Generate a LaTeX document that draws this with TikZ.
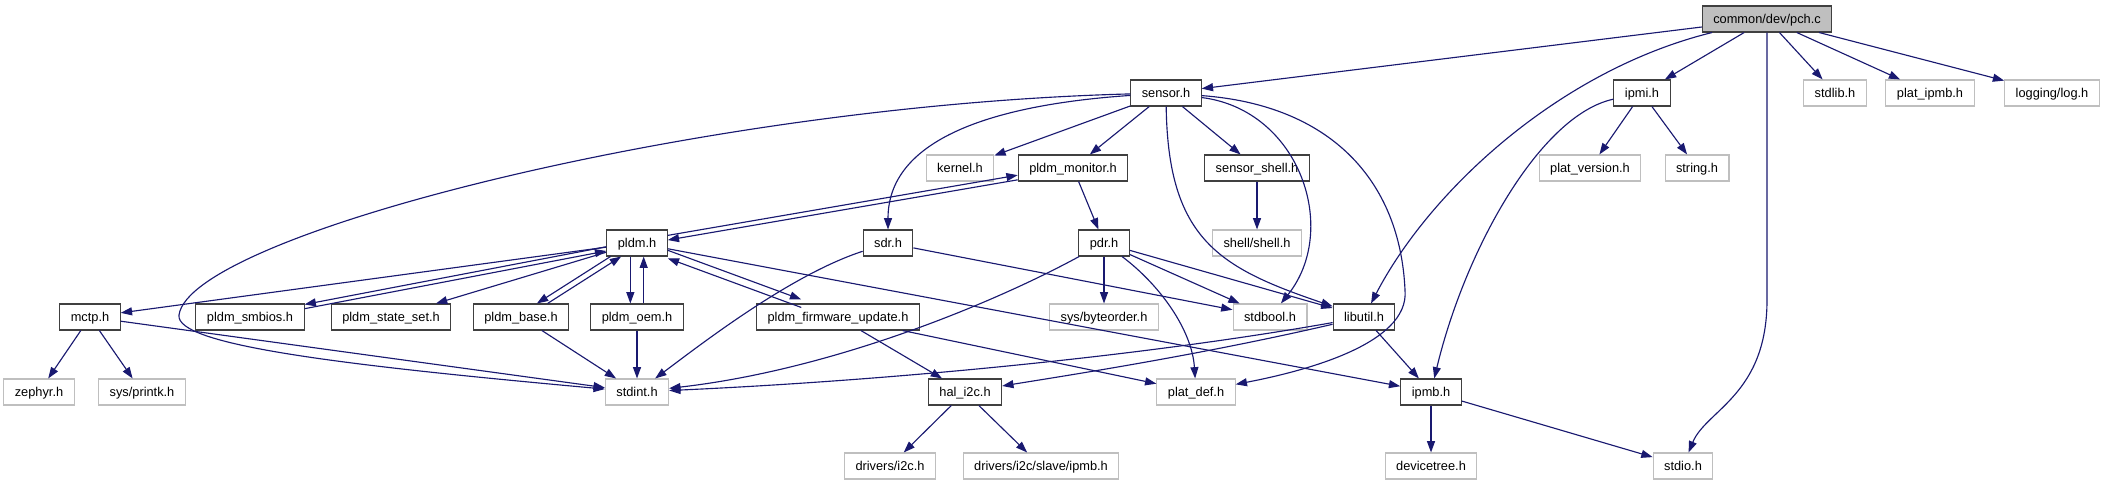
\documentclass[tikz,border=0pt]{standalone}
\usepackage{fontspec}
\setmainfont{Liberation Sans}
\usepackage{tikz}
\usetikzlibrary{arrows.meta}
\definecolor{edgeblue}{HTML}{191970}
\definecolor{boxgrey}{HTML}{BFBFBF}
\definecolor{boxline}{HTML}{404040}

\begin{document}
\begin{tikzpicture}[x=0.75pt, y=-0.75pt,
  hdr/.style={draw=boxline, fill=white, line width=0.8pt, minimum height=19.5pt,
              inner xsep=8.25pt, inner ysep=0pt, text height=7pt, text depth=0pt,
              font=\fontsize{9.6}{11}\selectfont},
  ext/.style={hdr, draw=boxgrey},
  root/.style={hdr, fill=boxgrey},
  inc/.style={draw=edgeblue, line width=0.85pt, -{Triangle[length=8.5pt, width=6pt]}},
]
  \useasboundingbox (0,0) rectangle (2105,485);

  % file and its direct includes
  \node[root] (pch)         at (1767,19)  {common/dev/pch.c};
  \node[hdr]  (sensor)      at (1166,93)  {sensor.h};
  \node[hdr]  (ipmi)        at (1642,93)  {ipmi.h};
  \node[ext]  (stdlib)      at (1835,93)  {stdlib.h};
  \node[ext]  (platipmb)    at (1930,93)  {plat\_ipmb.h};
  \node[ext]  (log)         at (2052,93)  {logging/log.h};

  \node[ext]  (kernel)      at (960,168)  {kernel.h};
  \node[hdr]  (pldmmon)     at (1073,168) {pldm\_monitor.h};
  \node[hdr]  (sensorshell) at (1257,168) {sensor\_shell.h};
  \node[ext]  (platversion) at (1590,168) {plat\_version.h};
  \node[ext]  (string)      at (1697,168) {string.h};

  \node[hdr]  (pldm)        at (637,243)  {pldm.h};
  \node[hdr]  (sdr)         at (888,243)  {sdr.h};
  \node[hdr]  (pdr)         at (1104,243) {pdr.h};
  \node[ext]  (shell)       at (1257,243) {shell/shell.h};

  \node[hdr]  (mctp)        at (90,317)   {mctp.h};
  \node[hdr]  (smbios)      at (250,317)  {pldm\_smbios.h};
  \node[hdr]  (stateset)    at (391,317)  {pldm\_state\_set.h};
  \node[hdr]  (base)        at (521,317)  {pldm\_base.h};
  \node[hdr]  (oem)         at (637,317)  {pldm\_oem.h};
  \node[hdr]  (fwupdate)    at (838,317)  {pldm\_firmware\_update.h};
  \node[ext]  (byteorder)   at (1104,317) {sys/byteorder.h};
  \node[ext]  (stdbool)     at (1270,317) {stdbool.h};
  \node[hdr]  (libutil)     at (1364,317) {libutil.h};

  \node[ext]  (zephyr)      at (39,392)   {zephyr.h};
  \node[ext]  (printk)      at (142,392)  {sys/printk.h};
  \node[ext]  (stdint)      at (637,392)  {stdint.h};
  \node[hdr]  (hali2c)      at (965,392)  {hal\_i2c.h};
  \node[ext]  (platdef)     at (1196,392) {plat\_def.h};
  \node[hdr]  (ipmb)        at (1431,392) {ipmb.h};

  \node[ext]  (drvi2c)      at (890,466)  {drivers/i2c.h};
  \node[ext]  (slaveipmb)   at (1041,466) {drivers/i2c/slave/ipmb.h};
  \node[ext]  (devicetree)  at (1431,466) {devicetree.h};
  \node[ext]  (stdio)       at (1683,466) {stdio.h};

  % pch.c
  \draw[inc] (pch) -- (sensor);
  \draw[inc] (pch) .. controls (1560,70) and (1430,190) .. (libutil);
  \draw[inc] (pch) -- (ipmi);
  \draw[inc] (pch) -- (1767,300) .. controls (1767,395) and (1706,410) .. (stdio);
  \draw[inc] (pch) -- (stdlib);
  \draw[inc] (pch) -- (platipmb);
  \draw[inc] (pch) -- (log);

  % sensor.h
  \draw[inc] (sensor) .. controls (700,105) and (190,235) .. (179,315)
                      .. controls (175,345) and (340,365) .. (stdint);
  \draw[inc] (sensor) .. controls (990,105) and (888,140) .. (sdr);
  \draw[inc] (sensor) -- (kernel);
  \draw[inc] (sensor) -- (pldmmon);
  \draw[inc] (sensor) -- (sensorshell);
  \draw[inc] (sensor) .. controls (1168,240) and (1220,268) .. (libutil);
  \draw[inc] (sensor) .. controls (1300,110) and (1340,230) .. (stdbool);
  \draw[inc] (sensor) .. controls (1330,105) and (1400,180) .. (1405,290)
                      .. controls (1410,345) and (1300,372) .. (platdef);

  % ipmi.h, sensor_shell.h
  \draw[inc] (ipmi) -- (platversion);
  \draw[inc] (ipmi) -- (string);
  \draw[inc] (ipmi) .. controls (1540,115) and (1465,250) .. (ipmb);
  \draw[inc] (sensorshell) -- (shell);

  % pldm_monitor.h and the pldm cycle
  \draw[inc, transform canvas={yshift=1.75pt}]  (pldm) -- (pldmmon);
  \draw[inc, transform canvas={yshift=-1.75pt}] (pldmmon) -- (pldm);
  \draw[inc] (pldmmon) -- (pdr);
  \draw[inc] (pldm) -- (mctp);
  \draw[inc, transform canvas={yshift=1.6pt}]  (pldm) -- (smbios);
  \draw[inc, transform canvas={yshift=-1.6pt}] (smbios) -- (pldm);
  \draw[inc] (pldm) -- (stateset);
  \draw[inc, transform canvas={xshift=-4pt}] (pldm) -- (base);
  \draw[inc, transform canvas={xshift=4pt}]  (base) -- (pldm);
  \draw[inc, transform canvas={xshift=-5pt}] (pldm) -- (oem);
  \draw[inc, transform canvas={xshift=5pt}]  (oem) -- (pldm);
  \draw[inc, transform canvas={yshift=3pt}]  (pldm) -- (fwupdate);
  \draw[inc, transform canvas={yshift=-3pt}] (fwupdate) -- (pldm);
  \draw[inc] (pldm) -- (ipmb);

  % sdr.h, pdr.h
  \draw[inc] (sdr) .. controls (790,275) and (700,345) .. (stdint);
  \draw[inc] (sdr) -- (stdbool);
  \draw[inc] (pdr) .. controls (990,305) and (830,370) .. (stdint);
  \draw[inc] (pdr) -- (byteorder);
  \draw[inc] (pdr) -- (stdbool);
  \draw[inc] (pdr) -- (libutil);
  \draw[inc] (pdr) .. controls (1160,285) and (1192,330) .. (platdef);

  % lower headers
  \draw[inc] (mctp) -- (zephyr);
  \draw[inc] (mctp) -- (printk);
  \draw[inc] (mctp) -- (stdint);
  \draw[inc] (base) -- (stdint);
  \draw[inc] (oem) -- (stdint);
  \draw[inc] (fwupdate) -- (hali2c);
  \draw[inc] (fwupdate) -- (platdef);
  \draw[inc] (libutil) .. controls (1150,355) and (900,380) .. (stdint);
  \draw[inc] (libutil) .. controls (1200,355) and (1070,375) .. (hali2c);
  \draw[inc] (libutil) -- (ipmb);
  \draw[inc] (hali2c) -- (drvi2c);
  \draw[inc] (hali2c) -- (slaveipmb);
  \draw[inc] (ipmb) -- (devicetree);
  \draw[inc] (ipmb) -- (stdio);
\end{tikzpicture}
\end{document}
